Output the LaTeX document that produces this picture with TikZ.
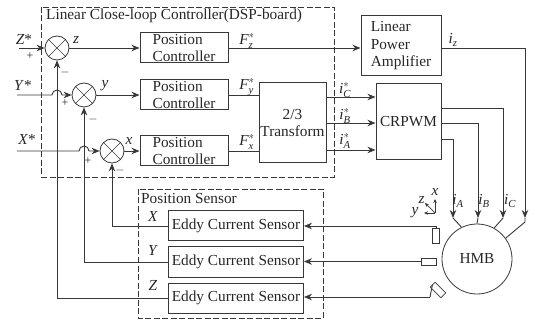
\documentclass[tikz,border=0pt]{standalone}
\usepackage{amsmath}
\usepackage{fontspec}
\setmainfont{Liberation Serif}
\usetikzlibrary{arrows.meta}
\definecolor{inkgray}{gray}{0.22}
\newcommand{\vi}[1]{\textit{#1}}
\newcommand{\subsup}[2]{$\vi{#1}_{\vi{#2}}^{*}$}
\newcommand{\subonly}[2]{$\vi{#1}_{\vi{#2}}$}
\tikzset{
  wire/.style={draw=inkgray,line width=0.9pt},
  feed/.style={wire,-{Stealth[length=8pt,width=6.5pt]}},
  axis/.style={wire,line width=0.7pt,-{Stealth[length=4pt,width=3.5pt]}},
  frame/.style={draw=inkgray,line width=0.8pt,dash pattern=on 6pt off 2.5pt},
  block/.style={draw=inkgray,line width=1pt,rectangle,inner sep=0pt,align=left,text=black!85,font=\fontsize{15.3}{17.5}\selectfont},
  sumnode/.style={draw=inkgray,line width=0.8pt,circle,minimum size=24pt,inner sep=0pt,
    path picture={\draw[inkgray,line width=0.7pt] (path picture bounding box.north west) -- (path picture bounding box.south east)
      (path picture bounding box.north east) -- (path picture bounding box.south west);}},
  probe/.style={draw=inkgray,line width=0.7pt,rectangle,inner sep=0pt},
  lab/.style={inner sep=0pt,text=black!85,font=\fontsize{15.3}{17}\selectfont},
  sgn/.style={lab,font=\fontsize{12}{13}\selectfont}
}
\begin{document}
\begin{tikzpicture}[x=1pt,y=-1pt]
  \useasboundingbox (0,0) rectangle (535,320);
  % dashed groups
  \draw[frame] (41,7) rectangle (334,177);
  \draw[frame] (138,189) rectangle (323,318);
  \node[lab,anchor=west] (ctrltitle) at (46,16) {Linear Close-loop Controller(DSP-board)};
  \node[lab,anchor=west] (senstitle) at (141,199) {Position Sensor};
  % summing points
  \node[sumnode] (sumz) at (57,48) {};
  \node[sumnode] (sumy) at (84,95) {};
  \node[sumnode] (sumx) at (112,151) {};
  % blocks
  \foreach \n/\y in {z/48,y/95,x/151}
    \node[block,minimum width=88pt,minimum height=30pt] (pc\n) at (184,\y) {Position\\Controller};
  \node[block,minimum width=67pt,minimum height=80pt,align=center] (trans) at (292.5,123) {2/3\\Transform};
  \node[block,minimum width=80pt,minimum height=60pt] (amp) at (401,46) {Linear\\Power\\Amplifier};
  \node[block,minimum width=65pt,minimum height=76pt] (crpwm) at (408.5,122) {CRPWM};
  \foreach \n/\y in {x/226,y/262,z/298}
    \node[block,minimum width=135pt,minimum height=30pt,anchor=west] (eddy\n) at (168,\y) {Eddy Current Sensor};
  \node[draw=inkgray,line width=0.8pt,circle,minimum size=70pt,inner sep=0pt,text=black!85,font=\fontsize{15.3}{17}\selectfont] (hmb) at (477,259) {HMB};
  % probes
  \node[probe,minimum width=7.5pt,minimum height=15pt] (probex) at (436,235.5) {};
  \node[probe,minimum width=15pt,minimum height=7pt] (probey) at (428.5,261.5) {};
  \node[probe,minimum width=15pt,minimum height=7pt,rotate=-45] (probez) at (438,290) {};
  % inputs
  \coordinate (inz) at (19,48);
  \coordinate (iny) at (17,95);
  \coordinate (inx) at (17,151);
  \draw[feed] (inz) -- (sumz);
  \draw[feed] (iny) -- (52,95) arc[start angle=180,end angle=360,radius=5] -- (sumy);
  \draw[feed] (inx) -- (79,151) arc[start angle=180,end angle=360,radius=5] -- (sumx);
  % forward path
  \foreach \n in {z,y,x} \draw[feed] (sum\n) -- (pc\n);
  \draw[feed] (pcz) -- (amp.west |- pcz);
  \draw[wire] (pcy) -- (trans.west |- pcy);
  \draw[wire] (pcx) -- (trans.west |- pcx);
  \foreach \y in {97,123,150}
    \draw[feed] (trans.east |- 0,\y) -- (crpwm.west |- 0,\y);
  % currents to the bearing
  \coordinate (tipa) at (453,218);
  \coordinate (tipb) at (478,218);
  \coordinate (tipc) at (503,218);
  \coordinate (tipz) at (525,218);
  \draw[feed] (crpwm.east |- 0,139) -| (tipa);
  \draw[feed] (crpwm.east |- 0,123) -| (tipb);
  \draw[feed] (crpwm.east |- 0,108) -| (tipc);
  \draw[feed] (amp.east |- pcz) -| (tipz);
  \draw[wire] (tipa) -- (hmb.116);
  \draw[wire] (tipb) -- (hmb.90);
  \draw[wire] (tipc) -- (hmb.61);
  \draw[wire] (tipz) -- (525,222) -- (hmb.36);
  % sensor lines
  \draw[feed] (436,226) -- (eddyx.east |- 0,226);
  \draw[feed] (probey.west) -- (eddyy.east |- probey.west);
  \draw[feed] (430,297) -- (eddyz.east |- 0,297);
  \draw[wire] (436,226) -- (probex.north);
  \draw[wire] (430,297) -- (probez.west);
  \draw[feed] (eddyx.west) -| (sumx);
  \draw[feed] (eddyy.west) -| (sumy);
  \draw[feed] (eddyz.west) -| (sumz);
  % axes
  \coordinate (axo) at (435,213);
  \draw[axis] (axo) -- (435,199);
  \draw[axis] (axo) -- (424,213);
  \draw[axis] (axo) -- (425,203);
  % labels
  \foreach \t/\x/\y in {x/435/192,y/415/213,z/421.5/200}
    \node[lab] (ax\t) at (\x,\y) {\vi{\t}};
  \node[lab] (lz) at (76,40) {\vi{z}};
  \node[lab] (ly) at (105,86) {\vi{y}};
  \node[lab] (lx) at (129,141) {\vi{x}};
  \node[lab] (lzs) at (24,39) {\vi{Z}*};
  \node[lab] (lys) at (23,85) {\vi{Y}*};
  \node[lab] (lxs) at (27,139) {\vi{X}*};
  \node[lab] (fz) at (247,41) {\subsup{F}{z}};
  \node[lab] (fy) at (247,87) {\subsup{F}{y}};
  \node[lab] (fx) at (247,142) {\subsup{F}{x}};
  \node[lab] (ic) at (345,90) {\subsup{i}{C}};
  \node[lab] (ib) at (345,116) {\subsup{i}{B}};
  \node[lab] (ia) at (345,141) {\subsup{i}{A}};
  \node[lab] (iz) at (453,40) {\subonly{i}{z}};
  \node[lab] (ila) at (458,201) {\subonly{i}{A}};
  \node[lab] (ilb) at (484,201) {\subonly{i}{B}};
  \node[lab] (ilc) at (510,201) {\subonly{i}{C}};
  \node[lab] (sx) at (153,216) {\vi{X}};
  \node[lab] (sy) at (153,250) {\vi{Y}};
  \node[lab] (sz) at (153,285) {\vi{Z}};
  \node[sgn] (pz) at (30,56) {+};
  \node[sgn] (mz) at (65,73) {$-$};
  \node[sgn] (py) at (65,103) {+};
  \node[sgn] (my) at (93,120) {$-$};
  \node[sgn] (px) at (88,161) {+};
  \node[sgn] (mx) at (120,171) {$-$};
\end{tikzpicture}
\end{document}
